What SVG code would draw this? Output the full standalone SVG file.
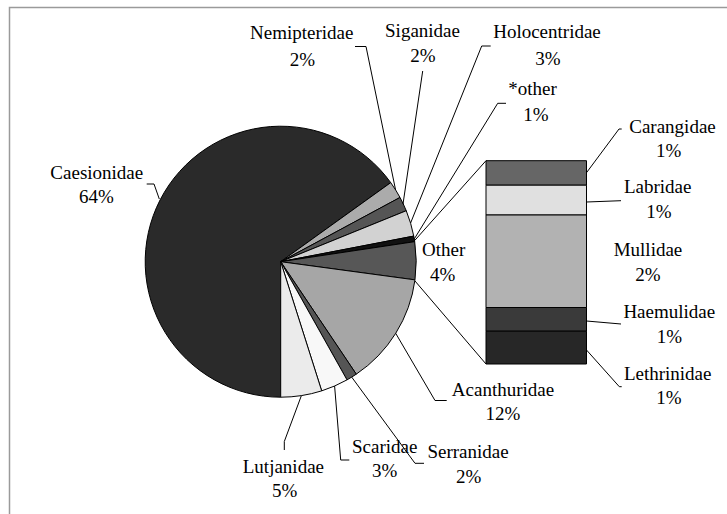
<svg xmlns="http://www.w3.org/2000/svg" width="727" height="514" viewBox="0 0 727 514">
<style>
.s{stroke:#000;stroke-width:1;stroke-linejoin:round}
.l{fill:none;stroke:#000;stroke-width:1}
text{font-family:"Liberation Serif","Times New Roman",serif;font-size:19px;fill:#000;text-anchor:middle}
</style>
<rect width="727" height="514" fill="#fff"/>
<path d="M9.5 514 V7.5 H727" fill="none" stroke="#9a9a9a" stroke-width="1.5"/>
<g id="pie">
<g id="caesionidae"><path class="s" fill="#2a2a2a" d="M280.7 261.7 L280.7 397.2 A135.5 135.5 0 1 1 390.74 182.64 Z"/></g>
<g id="nemipteridae"><path class="s" fill="#ababab" d="M280.7 261.7 L390.74 182.64 A135.5 135.5 0 0 1 400.01 197.46 Z"/></g>
<g id="siganidae"><path class="s" fill="#555" d="M280.7 261.7 L400.01 197.46 A135.5 135.5 0 0 1 406.24 210.72 Z"/></g>
<g id="holocentridae"><path class="s" fill="#d2d2d2" d="M280.7 261.7 L406.24 210.72 A135.5 135.5 0 0 1 413.76 236.08 Z"/></g>
<g id="other-star"><path class="s" fill="#111" d="M280.7 261.7 L413.76 236.08 A135.5 135.5 0 0 1 414.71 241.67 Z"/></g>
<g id="other"><path class="s" fill="#575757" d="M280.7 261.7 L414.71 241.67 A135.5 135.5 0 0 1 414.98 279.86 Z"/></g>
<g id="acanthuridae"><path class="s" fill="#a6a6a6" d="M280.7 261.7 L414.98 279.86 A135.5 135.5 0 0 1 356.27 374.17 Z"/></g>
<g id="serranidae"><path class="s" fill="#555" d="M280.7 261.7 L356.27 374.17 A135.5 135.5 0 0 1 347.01 379.87 Z"/></g>
<g id="scaridae"><path class="s" fill="#f8f8f8" d="M280.7 261.7 L347.01 379.87 A135.5 135.5 0 0 1 321.68 390.86 Z"/></g>
<g id="lutjanidae"><path class="s" fill="#ebebeb" d="M280.7 261.7 L321.68 390.86 A135.5 135.5 0 0 1 280.7 397.2 Z"/></g>
</g>
<g id="bar">
<g id="carangidae"><rect class="s" x="486" y="160.7" width="100.5" height="24.5" fill="#666"/></g>
<g id="labridae"><rect class="s" x="486" y="185.2" width="100.5" height="29.8" fill="#e0e0e0"/></g>
<g id="mullidae"><rect class="s" x="486" y="215" width="100.5" height="92.5" fill="#b2b2b2"/></g>
<g id="haemulidae"><rect class="s" x="486" y="307.5" width="100.5" height="23.7" fill="#3a3a3a"/></g>
<g id="lethrinidae"><rect class="s" x="486" y="331.2" width="100.5" height="32.8" fill="#272727"/></g>
</g>
<g id="connectors">
<path class="l" d="M486 160.7 L414.7 240.5"/>
<path class="l" d="M486 364 L415 281"/>
<path class="l" d="M146.7 184 H154 L159.3 199"/>
<path class="l" d="M355 46.5 H366 L395.6 190"/>
<path class="l" d="M422.7 71 L403 204"/>
<path class="l" d="M490.7 46 H481.7 L410.6 223"/>
<path class="l" d="M506 103.3 H497.7 L414.3 238.9"/>
<path class="l" d="M446.7 400.5 H435 L395.7 333.3"/>
<path class="l" d="M424 463.3 H415 L351.7 377.1"/>
<path class="l" d="M349.3 460 H340.7 L334.6 386"/>
<path class="l" d="M284.3 450 V441.5 L301.4 395.6"/>
<path class="l" d="M621.7 129 H619 L586.5 172.7"/>
<path class="l" d="M621 200.7 L586.5 202"/>
<path class="l" d="M621 324 L586.5 321"/>
<path class="l" d="M621.7 386.7 H619.3 L586.5 350"/>
</g>
<g id="labels">
<text x="96.8" y="179.3">Caesionidae</text><text x="96.3" y="202.7">64%</text>
<text x="301.7" y="39.3">Nemipteridae</text><text x="302.5" y="65.7">2%</text>
<text x="422.5" y="37">Siganidae</text><text x="423" y="62.3">2%</text>
<text x="547" y="38.3">Holocentridae</text><text x="548" y="65">3%</text>
<text x="532.6" y="94.5">*other</text><text x="536" y="121">1%</text>
<text x="443.7" y="256">Other</text><text x="442.7" y="280.7">4%</text>
<text x="503" y="396">Acanthuridae</text><text x="502.8" y="420">12%</text>
<text x="468" y="457.7">Serranidae</text><text x="468.7" y="482.7">2%</text>
<text x="384.7" y="453.3">Scaridae</text><text x="384.7" y="477.3">3%</text>
<text x="283.4" y="473.3">Lutjanidae</text><text x="284.7" y="497.3">5%</text>
<text x="672.5" y="133.3">Carangidae</text><text x="668.7" y="156.7">1%</text>
<text x="657.7" y="193.3">Labridae</text><text x="658.8" y="218.3">1%</text>
<text x="648" y="256">Mullidae</text><text x="648" y="280.7">2%</text>
<text x="669.3" y="318.3">Haemulidae</text><text x="669.5" y="343.3">1%</text>
<text x="667.7" y="380">Lethrinidae</text><text x="669" y="404.3">1%</text>
</g>
</svg>
